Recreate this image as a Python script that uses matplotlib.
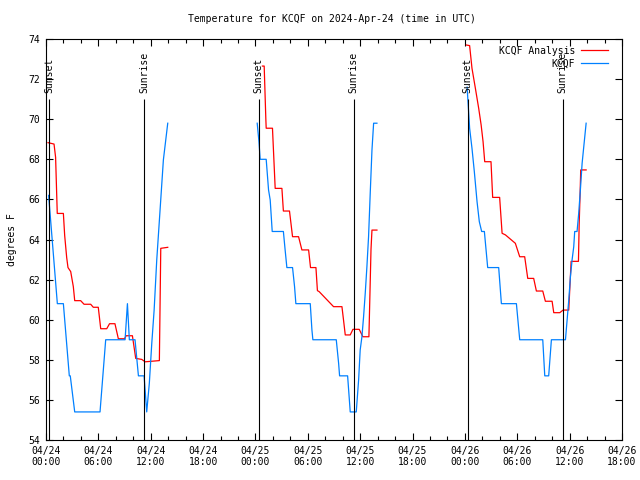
import matplotlib
matplotlib.use('Agg')
import matplotlib.pyplot as plt
import numpy as np

nan = float('nan')

# hours since 2024-04-24 00:00 UTC, nan splits the nights
analysis_hours = [0.23, 0.92, 1.1, 1.29, 1.99, 2.14, 2.37, 2.52, 2.83, 3.13, 3.29, 3.97, 4.36, 5.12,
                  5.42, 5.99, 6.27, 6.96, 7.28, 7.9, 8.29, 9.0, 9.18, 9.9, 10.28, 10.97, 11.36, 12.99,
                  13.15, 13.95, nan,
                  24.8, 25.0, 25.19, 25.23, 25.95, 26.26, 27.03, 27.2, 27.9, 28.25, 28.94, 29.32, 30.09,
                  30.31, 30.93, 31.1, 31.3, 32.95, 33.91, 34.1, 34.29, 34.86, 35.17, 35.89, 36.31, 37.0,
                  37.24, 37.35, 37.92, nan,
                  48.17, 48.54, 48.81, 49.2, 49.58, 49.86, 50.08, 50.27, 50.99, 51.18, 51.98, 52.26,
                  52.64, 53.78, 54.28, 54.85, 55.2, 55.88, 56.19, 56.92, 57.22, 57.99, 58.18, 58.87,
                  59.25, 59.9, 60.17, 61.01, 61.09, 61.2, 61.27, 61.89]
analysis_temp = [68.83, 68.76, 68.1, 65.3, 65.3, 64.2, 63.1, 62.6, 62.4, 61.65, 60.95, 60.95, 60.77, 60.77,
                 60.62, 60.62, 59.55, 59.55, 59.8, 59.8, 59.05, 59.05, 59.2, 59.2, 58.07, 58.02, 57.9, 57.96,
                 63.56, 63.61, nan,
                 72.65, 72.65, 70.0, 69.55, 69.55, 66.55, 66.55, 65.42, 65.42, 64.14, 64.14, 63.48, 63.48,
                 62.6, 62.6, 61.45, 61.4, 60.65, 60.65, 59.95, 59.24, 59.24, 59.52, 59.52, 59.15, 59.15,
                 63.51, 64.47, 64.47, nan,
                 73.7, 73.67, 72.54, 71.54, 70.54, 69.71, 68.88, 67.88, 67.88, 66.1, 66.1, 64.31,
                 64.23, 63.81, 63.14, 63.14, 62.06, 62.06, 61.43, 61.43, 60.92, 60.92, 60.35, 60.35,
                 60.48, 60.48, 62.91, 62.91, 64.72, 66.3, 67.47, 67.47]

obs_hours = [0.3, 1.3, 1.99, 2.67, 2.78, 3.29, 6.19, 6.84, 9.06, 9.33, 9.55, 10.2, 10.59, 11.24, 11.54,
             11.84, 12.12, 12.39, 12.69, 13.07, 13.45, 13.95, nan,
             24.2, 24.4, 24.54, 25.23, 25.5, 25.69, 25.92, 27.2, 27.4, 27.6, 28.25, 28.48, 28.63, 30.28,
             30.47, 30.58, 33.26, 33.53, 33.64, 34.56, 34.86, 35.55, 35.82, 36.0, 36.2, 36.39, 36.58,
             36.77, 36.96, 37.15, 37.35, 37.54, 37.92, nan,
             48.25, 48.45, 48.54, 48.81, 49.08, 49.39, 49.65, 49.92, 50.23, 50.61, 51.87, 52.18, 53.9,
             54.28, 56.92, 57.15, 57.6, 57.91, 59.52, 59.71, 59.9, 60.09, 60.28, 60.47, 60.58, 60.85,
             61.04, 61.23, 61.43, 61.62, 61.89]
obs_temp = [66.2, 60.8, 60.8, 57.2, 57.2, 55.4, 55.4, 59.0, 59.0, 60.8, 59.0, 59.0, 57.2, 57.2, 55.4,
            56.83, 58.82, 60.48, 62.98, 65.47, 67.97, 69.8, nan,
            69.8, 68.88, 68.0, 68.0, 66.47, 65.97, 64.4, 64.4, 63.48, 62.6, 62.6, 61.65, 60.8, 60.8,
            59.49, 59.0, 59.0, 57.82, 57.2, 57.2, 55.4, 55.4, 56.99, 58.49, 59.15, 60.15, 61.32,
            62.64, 64.14, 66.3, 68.46, 69.8, 69.8, nan,
            71.6, 70.2, 69.55, 68.55, 67.38, 65.89, 64.89, 64.4, 64.4, 62.6, 62.6, 60.8, 60.8,
            59.0, 59.0, 57.2, 57.2, 59.0, 59.0, 59.98, 60.98, 62.14, 62.98, 63.64, 64.4, 64.4,
            65.31, 66.47, 67.8, 68.63, 69.8]

sunset_hours = [0.37, 24.35, 48.33]
sunrise_hours = [11.27, 35.25, 59.22]

tick_hours = list(range(0, 67, 6))
tick_labels = ['04/24\n00:00', '04/24\n06:00', '04/24\n12:00', '04/24\n18:00',
               '04/25\n00:00', '04/25\n06:00', '04/25\n12:00', '04/25\n18:00',
               '04/26\n00:00', '04/26\n06:00', '04/26\n12:00', '04/26\n18:00']

plt.rcParams['font.family'] = 'DejaVu Sans Mono'
plt.rcParams['font.size'] = 7

fig = plt.figure(figsize=(6.4, 4.8), dpi=100)
ax = fig.add_axes([46/640, 40/480, 576/640, 401/480])

ax.plot(analysis_hours, analysis_temp, color='#ff0000', lw=0.9, label='KCQF Analysis')
ax.plot(obs_hours, obs_temp, color='#0080ff', lw=0.9, label='KCQF')

#sunset / sunrise markers
for t in sunset_hours:
    ax.vlines(t, 54, 71.0, color='black', lw=0.8)
    ax.text(t, 71.3, 'Sunset', rotation=90, ha='center', va='bottom')
for t in sunrise_hours:
    ax.vlines(t, 54, 71.0, color='black', lw=0.8)
    ax.text(t, 71.3, 'Sunrise', rotation=90, ha='center', va='bottom')

ax.set_xlim(0, 66)
ax.set_ylim(54, 74)
ax.set_xticks(tick_hours)
ax.set_xticklabels(tick_labels)
ax.set_xticks(np.arange(0, 67, 2), minor=True)
ax.set_yticks(np.arange(54, 75, 2))
ax.tick_params(which='major', direction='in', top=True, right=True, length=5, width=0.8, pad=4)
ax.tick_params(which='minor', direction='in', top=True, right=False, length=3, width=0.8)
for s in ax.spines.values():
    s.set_linewidth(0.8)

ax.legend(loc='upper right', bbox_to_anchor=(1 - 8/576, 1 - 1/401), frameon=False,
          markerfirst=False, handlelength=2.8, borderaxespad=0.2, labelspacing=0.25,
          handletextpad=0.6)

fig.text(332/640, 1 - 19/480, 'Temperature for KCQF on 2024-Apr-24 (time in UTC)',
         ha='center', va='center')
fig.text(12/640, 1 - 240/480, 'degrees F', rotation=90, ha='center', va='center')

plt.savefig('out.png')
